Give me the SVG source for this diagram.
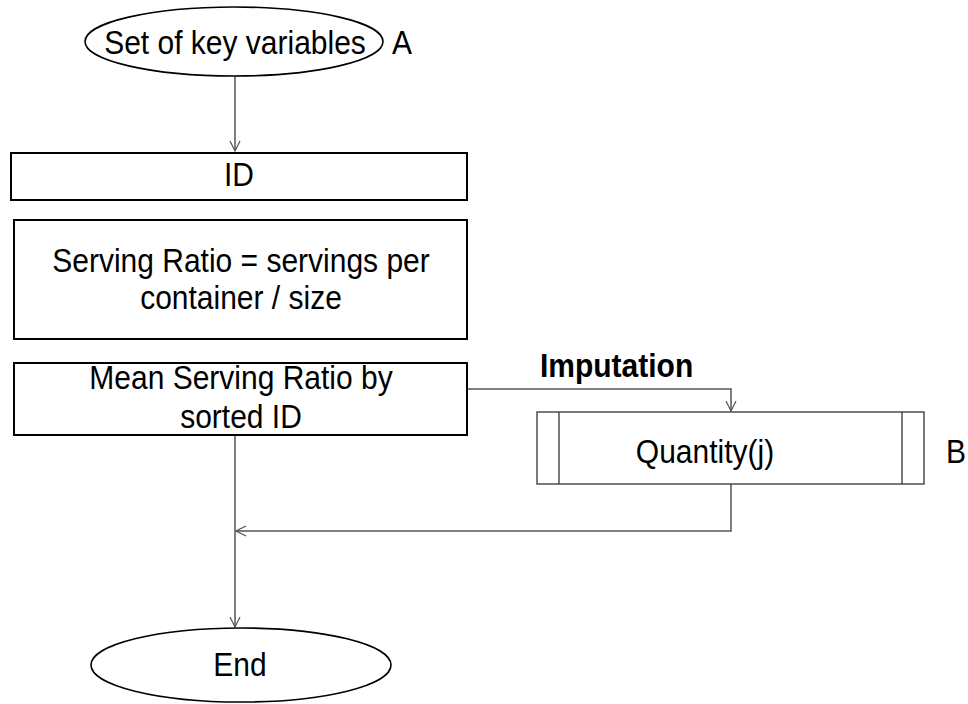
<svg xmlns="http://www.w3.org/2000/svg" width="968" height="704" viewBox="0 0 968 704">
<defs>
<marker id="arr" viewBox="0 0 12 12" refX="11" refY="6" markerWidth="12" markerHeight="12" markerUnits="userSpaceOnUse" orient="auto">
<path d="M1,1 L11,6 L1,11" fill="none" stroke="#555" stroke-width="1.2"/>
</marker>
</defs>
<style>
.t{font-family:"Liberation Sans",Arial,sans-serif;font-size:30px;fill:#000}
.m{text-anchor:middle}
.b{font-weight:bold}
.box{fill:#fff;stroke:#000;stroke-width:2}
.el{fill:#fff;stroke:#000;stroke-width:1.6}
.box2{fill:#fff;stroke:#333;stroke-width:1.3}
.c{fill:none;stroke:#555;stroke-width:1.5}
</style>
<rect width="968" height="704" fill="#fff"/>
<g id="connectors">
<path class="c" d="M235,76 L235,151" marker-end="url(#arr)"/>
<path class="c" d="M467,389 L731,389 L731,411" marker-end="url(#arr)"/>
<path class="c" d="M235,435 L235,627" marker-end="url(#arr)"/>
<path class="c" d="M731,484 L731,531 L236,531" marker-end="url(#arr)"/>
<text class="t b" transform="translate(540 377) scale(1 1.1)">Imputation</text>
</g>
<g id="start">
<ellipse class="el" cx="234" cy="41.5" rx="149" ry="34.5"/>
<text class="t m" transform="translate(235 54) scale(1 1.1)">Set of key variables</text>
<text class="t" transform="translate(392 54) scale(1 1.1)">A</text>
</g>
<g id="id">
<rect class="box" x="11" y="153" width="456" height="47"/>
<text class="t m" transform="translate(239 186) scale(1 1.1)">ID</text>
</g>
<g id="ratio">
<rect class="box" x="14" y="220" width="453" height="119"/>
<text class="t m" transform="translate(241 272) scale(1 1.1)">Serving Ratio = servings per</text>
<text class="t m" transform="translate(241 309) scale(1 1.1)">container / size</text>
</g>
<g id="mean">
<rect class="box" x="14" y="363" width="453" height="72"/>
<text class="t m" transform="translate(241 389) scale(1 1.1)">Mean Serving Ratio by</text>
<text class="t m" transform="translate(241 428) scale(1 1.1)">sorted ID</text>
</g>
<g id="quantity">
<rect class="box2" x="537" y="412" width="387" height="72"/>
<line class="box2" x1="559" y1="412" x2="559" y2="484"/>
<line class="box2" x1="902" y1="412" x2="902" y2="484"/>
<text class="t m" transform="translate(705 463) scale(1 1.1)">Quantity(j)</text>
<text class="t" transform="translate(946 463) scale(1 1.1)">B</text>
</g>
<g id="end">
<ellipse class="el" cx="241" cy="665" rx="150" ry="37"/>
<text class="t m" transform="translate(240 676) scale(1 1.1)">End</text>
</g>
</svg>
